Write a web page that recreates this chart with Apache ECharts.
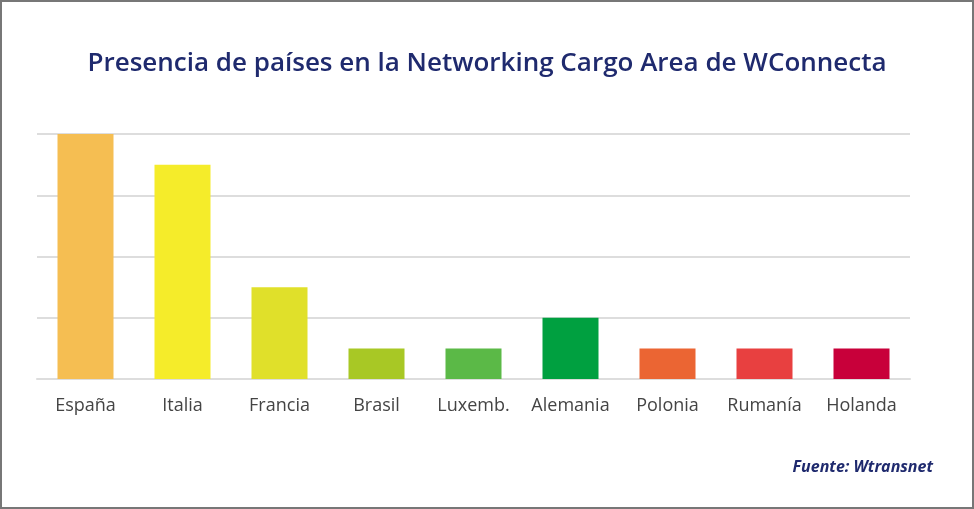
<!DOCTYPE html>
<html><head><meta charset="utf-8">
<script src="https://cdn.jsdelivr.net/npm/echarts@6/dist/echarts.min.js"></script>
<style>html,body{margin:0;padding:0;background:#fff}#c{width:974px;height:509px;box-sizing:border-box;border:2px solid #777}</style>
</head><body><div id="c"></div>
<script>
var categories=['España','Italia','Francia','Brasil','Luxemb.','Alemania','Polonia','Rumanía','Holanda'];
var values=[8,7,3,1,1,2,1,1,1];
var colors=['#F5BE52','#F5EC2A','#E0E02A','#A8C825','#5BB947','#00A040','#EB6533','#E84040','#C8003A'];
var chart=echarts.init(document.getElementById('c'));
chart.setOption({
  animation:false,
  title:[{text:'Presencia de países en la Networking Cargo Area de WConnecta',left:'center',top:44,textStyle:{color:'#1F2A6E',fontSize:26,fontWeight:600,fontFamily:'Open Sans'}},
         {text:'Fuente: Wtransnet',right:34,top:452,textStyle:{color:'#1F2A6E',fontSize:16,fontStyle:'italic',fontWeight:'bold',fontFamily:'Open Sans'}}],
  grid:{left:35,right:62,top:132,bottom:128},
  xAxis:{type:'category',data:categories,axisTick:{show:false},axisLine:{lineStyle:{color:'#ddd',width:2}},
    axisLabel:{color:'#444',fontSize:18,margin:18,interval:0,fontFamily:'Open Sans'}},
  yAxis:{type:'value',min:0,max:8,interval:2,axisLabel:{show:false},splitLine:{lineStyle:{color:'#ddd',width:2}}},
  series:[{type:'bar',barWidth:56,data:values.map(function(v,i){return {value:v,itemStyle:{color:colors[i]}};})}]
});
</script></body></html>
